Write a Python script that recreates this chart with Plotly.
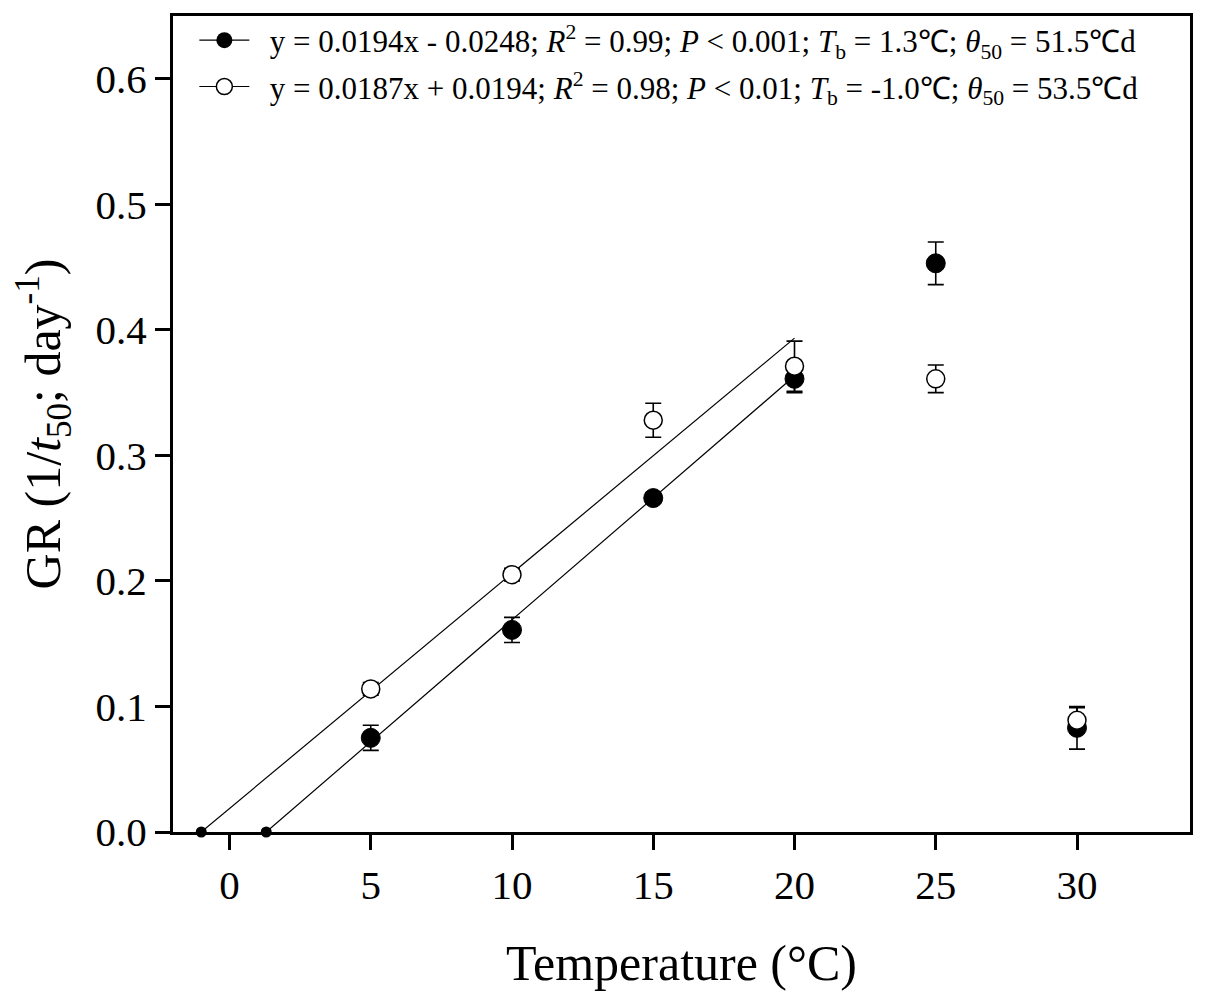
import plotly.graph_objects as go

# temperatures (°C)
temps = [5, 10, 15, 20, 25, 30]

# germination rate, filled symbols
gr_filled = [0.075, 0.161, 0.266, 0.361, 0.453, 0.083]
err_filled = [0.010, 0.010, 0.004, 0.011, 0.017, 0.017]

# germination rate, open symbols
gr_open = [0.114, 0.205, 0.328, 0.371, 0.361, 0.089]
err_open = [0.005, 0.005, 0.0135, 0.020, 0.011, 0.010]

# linear fits (slope, intercept), base temperature, fit end
fit_filled = (0.0194, -0.0248)
fit_open = (0.0187, 0.0194)
tb_filled = 1.3
tb_open = -1.0
fit_end = 20

legend_filled = ("\u00a0\u00a0y = 0.0194x - 0.0248; <i>R</i><sup>2</sup> = 0.99; <i>P</i> &lt; 0.001; "
                 "<i>T</i><sub>b</sub> = 1.3℃; <i>θ</i><sub>50</sub> = 51.5℃d")
legend_open = ("\u00a0\u00a0y = 0.0187x + 0.0194; <i>R</i><sup>2</sup> = 0.98; <i>P</i> &lt; 0.01; "
               "<i>T</i><sub>b</sub> = -1.0℃; <i>θ</i><sub>50</sub> = 53.5℃d")

FONT = "Liberation Serif"


def fit_line(fit, tb):
    xs = [tb, fit_end]
    ys = [0, fit[0] * fit_end + fit[1]]
    return go.Scatter(x=xs, y=ys, mode="lines", line=dict(color="black", width=1.2),
                      showlegend=False, hoverinfo="skip")


fig = go.Figure()

# regression lines
fig.add_trace(fit_line(fit_open, tb_open))
fig.add_trace(fit_line(fit_filled, tb_filled))

# base temperature dots on the x axis
fig.add_trace(go.Scatter(x=[tb_open, tb_filled], y=[0, 0], mode="markers",
                         marker=dict(color="black", size=11), showlegend=False,
                         cliponaxis=False))

# data points
fig.add_trace(go.Scatter(
    x=temps, y=gr_filled, mode="markers",
    marker=dict(color="black", size=19, line=dict(color="black", width=1)),
    error_y=dict(type="data", array=err_filled, color="black", thickness=1.6, width=8),
    showlegend=False))
fig.add_trace(go.Scatter(
    x=temps, y=gr_open, mode="markers",
    marker=dict(color="white", size=18, line=dict(color="black", width=1.5)),
    error_y=dict(type="data", array=err_open, color="black", thickness=1.6, width=8),
    showlegend=False))

# legend entries
fig.add_trace(go.Scatter(x=[None], y=[None], mode="lines+markers", name=legend_filled,
                         legendgroup="a",
                         line=dict(color="black", width=1.2),
                         marker=dict(color="black", size=18)))
fig.add_trace(go.Scatter(x=[None], y=[None], mode="lines+markers", name=legend_open,
                         legendgroup="b",
                         line=dict(color="black", width=1.2),
                         marker=dict(color="white", size=17, line=dict(color="black", width=1.5))))

axis_common = dict(showline=True, linecolor="black", linewidth=3, mirror=True,
                   ticks="outside", ticklen=15, tickwidth=2.5, tickcolor="black",
                   showgrid=False, zeroline=False,
                   tickfont=dict(family=FONT, size=41, color="black"))

fig.update_xaxes(range=[-2, 34], tickvals=[0, 5, 10, 15, 20, 25, 30],
                 title=dict(text="Temperature (°C)", font=dict(family=FONT, size=50, color="black"),
                            standoff=38),
                 **axis_common)
fig.update_yaxes(range=[0, 0.65], tickvals=[0, 0.1, 0.2, 0.3, 0.4, 0.5, 0.6], tickformat=".1f",
                 title=dict(text="GR (1/<i>t</i><sub>50</sub>; day<sup>-1</sup>)",
                            font=dict(family=FONT, size=50, color="black"), standoff=28),
                 **axis_common)

fig.update_layout(
    width=1205, height=1005,
    margin=dict(l=165, r=23, t=6, b=181),
    plot_bgcolor="white", paper_bgcolor="white",
    font=dict(family=FONT, color="black"),
    legend=dict(x=0.021, y=1.003, xanchor="left", yanchor="top",
                font=dict(family=FONT, size=31, color="black"),
                bgcolor="rgba(0,0,0,0)", tracegroupgap=3, itemwidth=50),
)

fig.write_html("out.html")
